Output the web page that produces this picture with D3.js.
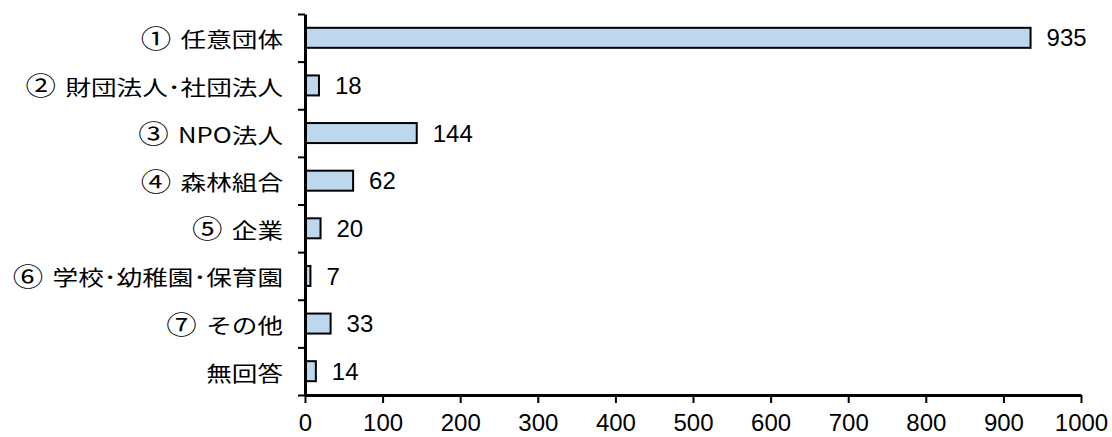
<!DOCTYPE html>
<html>
<head>
<meta charset="utf-8">
<script src="https://cdn.jsdelivr.net/npm/d3@7"></script>
<style>
  html, body { margin: 0; padding: 0; background: #fff; }
  svg { display: block; font-family: "Noto Sans CJK JP", "Noto Sans", sans-serif; }
</style>
</head>
<body>
<svg id="chart" width="1112" height="437"></svg>
<script>
// Organisation types and number of responses
const categories = [
  "① 任意団体",
  "② 財団法人･社団法人",
  "③ NPO法人",
  "④ 森林組合",
  "⑤ 企業",
  "⑥ 学校･幼稚園･保育園",
  "⑦ その他",
  "無回答"
];
const counts = [935, 18, 144, 62, 20, 7, 33, 14];
const xTicks = [0, 100, 200, 300, 400, 500, 600, 700, 800, 900, 1000];

const svg = d3.select("#chart");
const plotLeft = 305, plotRight = 1081, plotTop = 14, plotBottom = 395;
const wide = 1.22;   // horizontal stretch of the category text
const numFont = "\"Liberation Sans\", Arial, sans-serif";

const x = d3.scaleLinear().domain([0, 1000]).range([plotLeft, plotRight]);
const y = d3.scaleBand().domain(categories).range([plotTop, plotBottom])
  .paddingInner(0.58).paddingOuter(0.29);
// index scale for the category separators on the vertical axis
const yIdx = d3.scaleLinear().domain([0, categories.length]).range([plotTop, plotBottom]);

// bars
svg.append("g").selectAll("rect")
  .data(categories)
  .join("rect")
  .attr("x", x(0))
  .attr("y", d => y(d))
  .attr("width", (d, i) => x(counts[i]) - x(0))
  .attr("height", y.bandwidth())
  .attr("fill", "#bdd7ee")
  .attr("stroke", "#000")
  .attr("stroke-width", 2);

// value labels
svg.append("g").selectAll("text")
  .data(categories)
  .join("text")
  .attr("x", (d, i) => x(counts[i]) + 16)
  .attr("y", d => y(d) + y.bandwidth() / 2)
  .attr("dy", "0.36em")
  .attr("font-size", 24)
  .attr("font-family", numFont)
  .attr("fill", "#000")
  .text((d, i) => counts[i]);

// category labels: enlarged circled number, then the name
const labels = svg.append("g").selectAll("text")
  .data(categories)
  .join("text")
  .attr("transform", d => `translate(283,${y(d) + y.bandwidth() / 2 + 9.5}) scale(${wide},1)`)
  .attr("text-anchor", "end")
  .attr("font-size", 21)
  .attr("fill", "#000");
labels.each(function(d) {
  const t = d3.select(this);
  const k = d.indexOf(" ");
  if (k < 0) { t.text(d); return; }
  t.append("tspan").attr("font-size", 25).attr("dy", 0.5).text(d.slice(0, k));
  t.append("tspan").attr("dy", -0.5).attr("dx", 3).text(d.slice(k));
});

// vertical axis with separators between categories
const yAxis = svg.append("g")
  .attr("transform", `translate(${plotLeft},0)`)
  .call(d3.axisLeft(yIdx).tickValues(d3.range(categories.length + 1))
    .tickFormat("").tickSize(7).tickSizeOuter(0));
yAxis.select(".domain").attr("stroke", "#000").attr("stroke-width", 3);
yAxis.selectAll(".tick line").attr("stroke", "#000").attr("stroke-width", 2);

// horizontal axis
const xAxis = svg.append("g")
  .attr("transform", `translate(0,${plotBottom})`)
  .call(d3.axisBottom(x).tickValues(xTicks).tickFormat(d3.format("d"))
    .tickSize(8).tickSizeOuter(0).tickPadding(11));
xAxis.select(".domain").attr("stroke", "#000").attr("stroke-width", 3);
xAxis.selectAll(".tick line").attr("stroke", "#000").attr("stroke-width", 2);
xAxis.selectAll(".tick text")
  .attr("font-size", 24)
  .attr("font-family", numFont)
  .attr("fill", "#000");
</script>
</body>
</html>
